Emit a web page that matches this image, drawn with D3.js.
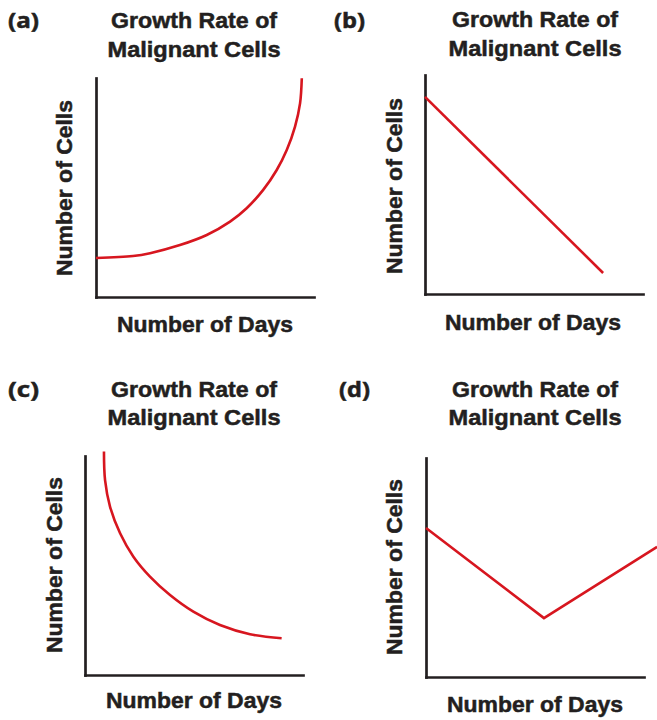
<!DOCTYPE html>
<html>
<head>
<meta charset="utf-8">
<script src="https://cdn.jsdelivr.net/npm/d3@7"></script>
<style>
  body { margin: 0; background: #fff; }
  text { fill: #231f20; stroke: #231f20; stroke-width: 0.5; font-weight: bold; }
</style>
</head>
<body>
<svg id="chart" width="657" height="720"></svg>
<script>
// values, both axes on a 0..10 scale
var panelLabels = ["(a)", "(b)", "(c)", "(d)"];
var titleLines = ["Growth Rate of", "Malignant Cells"];
var xLabel = "Number of Days";
var yLabel = "Number of Cells";

var seriesA = [[0, 1.78], [1.70, 1.87], [2.48, 2.0], [3.85, 2.37], [5.08, 2.83],
               [6.15, 3.44], [6.91, 4.05], [7.67, 4.89], [8.29, 5.80], [8.75, 6.71],
               [9.13, 7.78], [9.36, 8.84], [9.44, 9.99]];
var seriesB = [[0, 9.0], [8.17, 0.96]];
var seriesC = [[0.87, 10.2], [0.92, 8.9], [1.15, 7.68], [1.61, 6.47], [2.22, 5.40],
               [2.98, 4.49], [3.90, 3.65], [4.97, 2.89], [6.19, 2.28], [7.57, 1.86],
               [9.02, 1.68]];
var seriesD = [[0, 6.8], [5.41, 2.69], [10.6, 5.94]];

var allSeries = [seriesA, seriesB, seriesC, seriesD];
var curves = [d3.curveCatmullRom.alpha(0.5), d3.curveLinear,
              d3.curveCatmullRom.alpha(0.5), d3.curveLinear];

// where each panel sits on the page
var layout = [
    { ox: 96,  oy: 297, lab: [8, 28],    title: [194, 28, 57],   xl: [205, 332], yl: [72, 188] },
    { ox: 425, oy: 294, lab: [334, 28],  title: [535, 27, 56],   xl: [533, 330], yl: [402, 186] },
    { ox: 85,  oy: 675, lab: [8, 397],   title: [194, 397, 425], xl: [194, 708], yl: [62, 565] },
    { ox: 426, oy: 677, lab: [339, 397], title: [535, 397, 425], xl: [535, 712], yl: [402, 567] }
];

var W = 218, H = 219;
var RED = "#d7161f", INK = "#231f20";
var condensed = "'Liberation Sans Narrow', 'Arial Narrow', 'Liberation Sans', Arial, sans-serif";

var svg = d3.select("#chart");

layout.forEach(function (p, i) {
    var x = d3.scaleLinear().domain([0, 10]).range([p.ox, p.ox + W]);
    var y = d3.scaleLinear().domain([0, 10]).range([p.oy, p.oy - H]);

    var g = svg.append("g");

    // axes without ticks
    g.append("g")
        .attr("transform", "translate(0," + p.oy + ")")
        .call(d3.axisBottom(x).tickValues([]).tickSizeOuter(0));
    g.append("g")
        .attr("transform", "translate(" + p.ox + ",0)")
        .call(d3.axisLeft(y).tickValues([]).tickSizeOuter(0));
    g.selectAll(".domain")
        .attr("stroke", INK)
        .attr("stroke-width", 2.7)
        .attr("stroke-linecap", "square");

    var line = d3.line()
        .x(function (d) { return x(d[0]); })
        .y(function (d) { return y(d[1]); })
        .curve(curves[i]);

    g.append("path")
        .datum(allSeries[i])
        .attr("d", line)
        .attr("fill", "none")
        .attr("stroke", RED)
        .attr("stroke-width", 2.6);

    g.append("text")
        .attr("x", p.lab[0])
        .attr("y", p.lab[1])
        .attr("font-family", "'Open Sans', 'DejaVu Sans', sans-serif")
        .attr("font-size", 21)
        .attr("textLength", 31)
        .attr("lengthAdjust", "spacingAndGlyphs")
        .text(panelLabels[i]);

    titleLines.forEach(function (t, k) {
        g.append("text")
            .attr("x", p.title[0])
            .attr("y", p.title[k + 1])
            .attr("text-anchor", "middle")
            .attr("font-family", condensed)
            .attr("font-size", 22)
            .attr("textLength", k === 0 ? 166 : 173)
            .attr("lengthAdjust", "spacingAndGlyphs")
            .text(t);
    });

    g.append("text")
        .attr("x", p.xl[0])
        .attr("y", p.xl[1])
        .attr("text-anchor", "middle")
        .attr("font-family", condensed)
        .attr("font-size", 22)
        .attr("textLength", 176)
        .attr("lengthAdjust", "spacingAndGlyphs")
        .text(xLabel);

    g.append("text")
        .attr("transform", "translate(" + p.yl[0] + "," + p.yl[1] + ") rotate(-90)")
        .attr("text-anchor", "middle")
        .attr("font-family", condensed)
        .attr("font-size", 22)
        .attr("textLength", 176)
        .attr("lengthAdjust", "spacingAndGlyphs")
        .text(yLabel);
});
</script>
</body>
</html>
